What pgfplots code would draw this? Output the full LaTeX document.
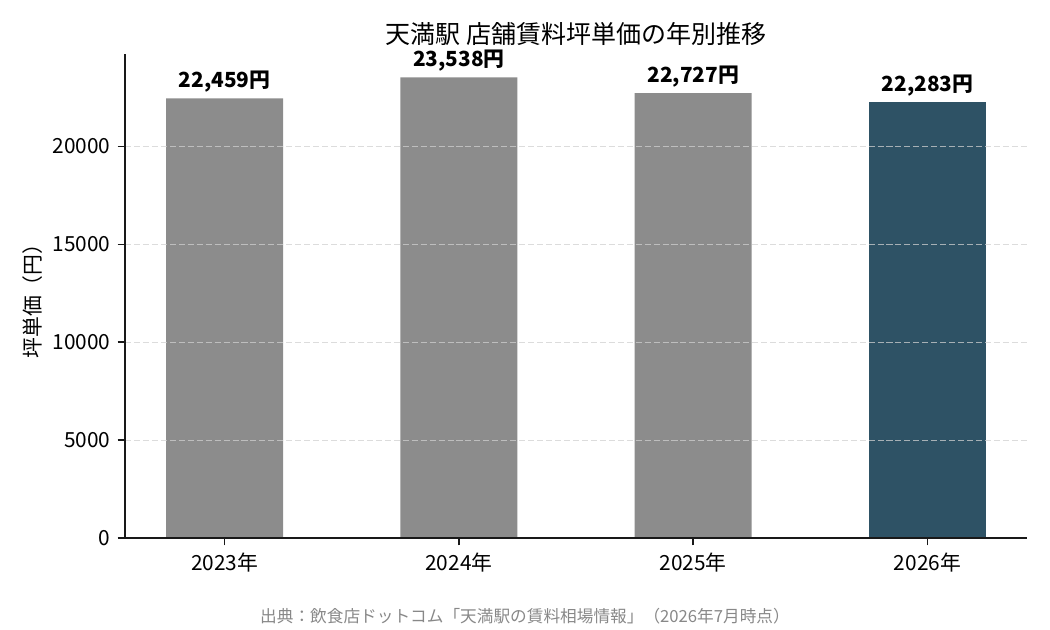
\documentclass[border=0pt]{standalone}
\usepackage{fontspec}
\setmainfont{Noto Sans CJK JP}
\usepackage{pgfplots}
\usepackage{pgfplotstable}
\pgfplotsset{compat=1.18}
\definecolor{barGray}{RGB}{140,140,140}
\definecolor{barDark}{RGB}{46,82,101}
\definecolor{gridC}{RGB}{208,208,208}
\definecolor{srcC}{RGB}{136,136,136}
\pgfplotstableread{
x y label
0 22459 22,459円
1 23538 23,538円
2 22727 22,727円
}\graydata
\pgfplotstableread{
x y label
3 22283 22,283円
}\darkdata
\begin{document}
\begin{tikzpicture}
\useasboundingbox (0,0) rectangle (504bp,302.4bp);
\begin{axis}[
  at={(60bp,44.16bp)}, anchor=south west,
  scale only axis, width=432.96bp, height=232.2bp,
  xmin=-0.425, xmax=3.425, ymin=0, ymax=24715,
  scaled y ticks=false,
  axis x line*=bottom, axis y line*=left,
  axis line style={line width=0.8bp, color=black!90},
  axis on top,
  xtick={0,1,2,3}, xticklabels={2023年,2024年,2025年,2026年},
  ytick={0,5000,10000,15000,20000}, yticklabels={0,5000,10000,15000,20000},
  tick align=outside, major tick length=3.5bp,
  tick style={line width=0.8bp, color=black!90},
  ticklabel style={font=\fontsize{10bp}{12bp}\selectfont},
  ymajorgrids, xmajorgrids=false,
  major grid style={draw=gridC, opacity=0.75, line width=0.5bp, dash pattern=on 2.9bp off 1.4bp},
  ylabel={坪単価（円）},
  ylabel style={font=\fontsize{10bp}{12bp}\selectfont, at={(axis description cs:0,0.5)}, anchor=center, yshift=44.2bp},
  title={天満駅 店舗賃料坪単価の年別推移},
  every axis title shift=5bp,
  title style={at={(axis description cs:0.5,1)}, anchor=base, font=\fontsize{12bp}{14bp}\selectfont},
  ybar, bar width=0.5, bar shift=0pt,
  nodes near coords={\pgfplotspointmeta},
  point meta=explicit symbolic,
  every node near coord/.append style={anchor=base, yshift=5.1bp, inner sep=0pt, font=\fontsize{10bp}{12bp}\selectfont\bfseries, color=black},
]
\addplot[fill=barGray, draw=none] table[x=x, y=y, meta=label] {\graydata};
\addplot[fill=barDark, draw=none] table[x=x, y=y, meta=label] {\darkdata};
\end{axis}
\node[anchor=base, font=\fontsize{8bp}{10bp}\selectfont, text=srcC, inner sep=0pt] at (252bp,3.4bp) {出典：飲食店ドットコム「天満駅の賃料相場情報」（2026年7月時点）};
\end{tikzpicture}
\end{document}
